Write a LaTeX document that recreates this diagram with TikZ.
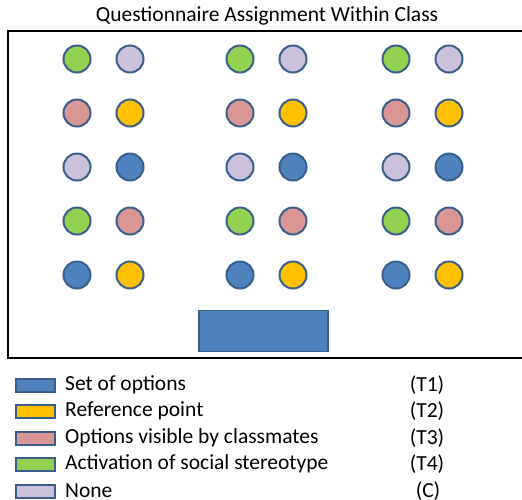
\documentclass[tikz,border=0pt]{standalone}
\usepackage{fontspec}
\setmainfont{Carlito}
\definecolor{cblue}{HTML}{4F81BD}
\definecolor{cedge}{HTML}{3A5F8C}
\definecolor{corange}{HTML}{FFC000}
\definecolor{cpink}{HTML}{D99694}
\definecolor{cgreen}{HTML}{92D050}
\definecolor{clav}{HTML}{CCC1DA}
\tikzset{
  seat/.style={circle, draw=cedge, line width=2pt, minimum size=27pt, inner sep=0pt},
  keybox/.style={rectangle, draw=cedge, line width=2pt, minimum width=39pt, minimum height=13pt, inner sep=0pt},
  keytext/.style={anchor=west, inner sep=0pt, font=\fontsize{21.5}{24}\selectfont},
}
\begin{document}
\begin{tikzpicture}[x=1pt,y=-1pt]
\useasboundingbox (0,0) rectangle (522,499);
\fill[white] (0,0) rectangle (522,499);
\clip (0,0) rectangle (522,499);
\node[inner sep=0pt, font=\fontsize{21.5}{24}\selectfont] (title) at (267,16) {Questionnaire Assignment Within Class};
\draw[line width=2pt] (530,31) -- (8,31) -- (8,358) -- (530,358);
% seats
\foreach \cx/\gx in {77/a,240/b,396/c}{
  \pgfmathsetmacro{\dx}{\cx+53}
  \node[seat, fill=cgreen] (\gx11) at (\cx,59) {};
  \node[seat, fill=clav] (\gx12) at (\dx,59) {};
  \node[seat, fill=cpink] (\gx21) at (\cx,113) {};
  \node[seat, fill=corange] (\gx22) at (\dx,113) {};
  \node[seat, fill=clav] (\gx31) at (\cx,167) {};
  \node[seat, fill=cblue] (\gx32) at (\dx,167) {};
  \node[seat, fill=cgreen] (\gx41) at (\cx,221) {};
  \node[seat, fill=cpink] (\gx42) at (\dx,221) {};
  \node[seat, fill=cblue] (\gx51) at (\cx,275) {};
  \node[seat, fill=corange] (\gx52) at (\dx,275) {};
}
\node[rectangle, draw=cedge, line width=1.5pt, fill=cblue, minimum width=129pt, minimum height=41pt, inner sep=0pt] (desk) at (263.5,331) {};
% legend
\foreach \i/\y/\c/\t/\code/\cx in {1/385/cblue/Set of options/(T1)/427,2/411/corange/Reference point/(T2)/427,3/438/cpink/Options visible by classmates/(T3)/427,4/464/cgreen/Activation of social stereotype/(T4)/427,5/491/clav/None/(C)/428}{
  \node[keybox, fill=\c] (box\i) at (35.5,\y) {};
  \node[keytext] (lab\i) at (65,\y) {\t};
  \node[inner sep=0pt, font=\fontsize{21.5}{24}\selectfont] (code\i) at (\cx,\y) {\code};
}
\end{tikzpicture}
\end{document}
